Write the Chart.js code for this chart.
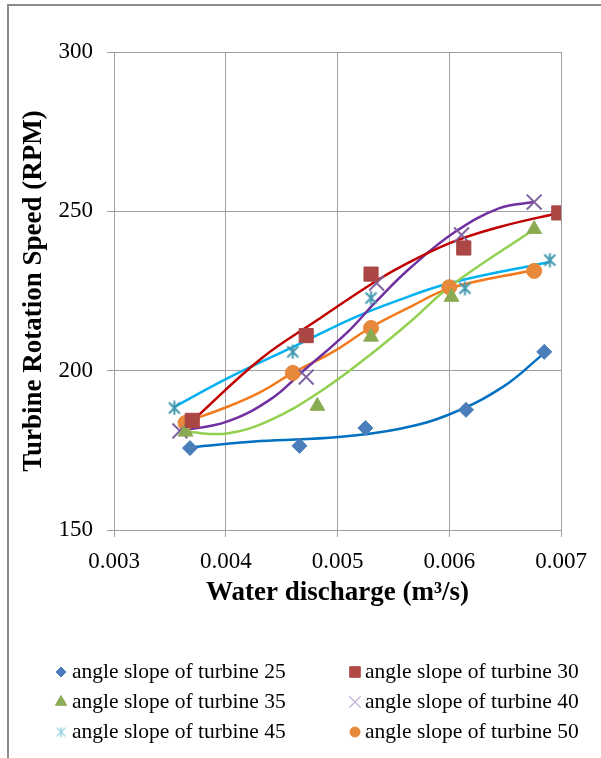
<!DOCTYPE html>
<html>
<head>
<meta charset="utf-8">
<script src="https://cdn.jsdelivr.net/npm/chart.js@4/dist/chart.umd.min.js"></script>
<style>
  html, body { margin: 0; padding: 0; background: #fff; }
  #wrap { position: relative; width: 601px; height: 758px; overflow: hidden; }
  #wrap canvas { position: absolute; left: 0; top: 0; }
  #frame {
    position: absolute; left: 7px; top: 4px; right: 0; bottom: 0;
    border-top: 2px solid #8a8a8a; border-left: 2px solid #8a8a8a;
    pointer-events: none;
  }
</style>
</head>
<body>
<div id="wrap">
  <canvas id="chart" width="601" height="758"></canvas>
  <div id="frame"></div>
</div>
<script>
// --- Data ---
const turbineAngles = [25, 30, 35, 40, 45, 50];

// measured points: water discharge (m3/s) and rotation speed (RPM)
const q25 = [0.00368, 0.00466, 0.00525, 0.00615, 0.00685];
const rpm25 = [175.7, 176.4, 182.0, 187.7, 205.9];
const q30 = [0.00370, 0.00472, 0.00530, 0.00613, 0.00698];
const rpm30 = [184.4, 211.0, 230.3, 238.5, 249.5];
const q35 = [0.00364, 0.00482, 0.00530, 0.00602, 0.00676];
const rpm35 = [180.8, 188.9, 210.6, 223.1, 244.4];
const q40 = [0.00359, 0.00472, 0.00535, 0.00611, 0.00676];
const rpm40 = [181.1, 198.0, 227.5, 242.6, 252.9];
const q45 = [0.00354, 0.00460, 0.00530, 0.00614, 0.00690];
const rpm45 = [188.3, 205.9, 222.8, 225.9, 234.7];
const q50 = [0.00364, 0.00460, 0.00530, 0.00600, 0.00676];
const rpm50 = [183.6, 199.3, 213.4, 226.2, 231.3];

// trend curves
const tq25 = [0.00370, 0.00431, 0.00501, 0.00556, 0.00601, 0.00648, 0.00684];
const trpm25 = [176.0, 177.9, 179.2, 181.8, 186.4, 194.9, 205.2];
const tq30 = [0.00370, 0.00431, 0.00482, 0.00529, 0.00556, 0.00601, 0.00645, 0.00698];
const trpm30 = [184.2, 203.6, 215.9, 226.9, 232.5, 240.1, 245.1, 249.5];
const tq35 = [0.00364, 0.00401, 0.00440, 0.00484, 0.00529, 0.00565, 0.00601, 0.00676];
const trpm35 = [180.8, 180.3, 184.5, 193.3, 204.9, 215.3, 226.5, 244.4];
const tq40 = [0.00359, 0.00401, 0.00440, 0.00469, 0.00509, 0.00534, 0.00565, 0.00605, 0.00645, 0.00676];
const trpm40 = [181.1, 184.0, 191.0, 199.8, 212.1, 221.5, 232.2, 243.5, 251.0, 252.9];
const tq45 = [0.00354, 0.00401, 0.00466, 0.00514, 0.00553, 0.00601, 0.00690];
const trpm45 = [188.6, 197.5, 208.4, 216.5, 221.9, 227.5, 234.1];
const tq50 = [0.00364, 0.00401, 0.00431, 0.00460, 0.00496, 0.00529, 0.00565, 0.00601, 0.00676];
const trpm50 = [183.9, 188.6, 193.3, 199.3, 205.9, 213.4, 220.0, 225.9, 231.6];

const xTicks = [0.003, 0.004, 0.005, 0.006, 0.007];
const yTicks = [150, 200, 250, 300];

// --- Styles ---
const gridColor = '#a0a0a0';
const serif = '"Liberation Serif", "Times New Roman", serif';

function asterisk(size, color, lw) {
    const c = document.createElement('canvas');
    c.width = c.height = size;
    const g = c.getContext('2d');
    g.strokeStyle = color;
    g.lineWidth = lw;
    const a = lw, b = size - lw;
    g.beginPath();
    g.moveTo(a, a); g.lineTo(b, b);
    g.moveTo(b, a); g.lineTo(a, b);
    g.moveTo(size / 2, 0.5); g.lineTo(size / 2, size - 0.5);
    g.stroke();
    return c;
}

const markerStyles = [
    { style: 'rectRot', radius: 7.5, fill: '#4a7dba', border: '#4a7dba', bw: 1 },
    { style: 'rect', radius: 10, fill: '#aa4643', border: '#aa4643', bw: 1 },
    { style: 'triangle', radius: 8.5, fill: '#8bab52', border: '#8bab52', bw: 1 },
    { style: 'crossRot', radius: 10.5, fill: '#7e63a0', border: '#7e63a0', bw: 2 },
    { style: asterisk(15, '#4198af', 2), radius: 7, fill: '#4198af', border: '#4198af', bw: 2 },
    { style: 'circle', radius: 7.5, fill: '#e8883a', border: '#e8883a', bw: 1 }
];
const legendStyles = [
    { style: 'rectRot', radius: 5, fill: '#4a7dba', border: '#4a7dba', bw: 1 },
    { style: 'rect', radius: 7.5, fill: '#b04a47', border: '#b04a47', bw: 1 },
    { style: 'triangle', radius: 6.5, fill: '#8dab55', border: '#8dab55', bw: 1 },
    { style: 'crossRot', radius: 8, fill: '#b8a6d0', border: '#b8a6d0', bw: 1.2 },
    { style: asterisk(11, '#86cbe0', 1.2), radius: 5, fill: '#86cbe0', border: '#86cbe0', bw: 1 },
    { style: 'circle', radius: 5, fill: '#e8883a', border: '#e8883a', bw: 1 }
];
const trendColors = ['#0070c0', '#c00000', '#92d050', '#7030a0', '#00b0f0', '#f27a1c'];

const pointSets = [[q25, rpm25], [q30, rpm30], [q35, rpm35], [q40, rpm40], [q45, rpm45], [q50, rpm50]];
const trendSets = [[tq25, trpm25], [tq30, trpm30], [tq35, trpm35], [tq40, trpm40], [tq45, trpm45], [tq50, trpm50]];

const toPoints = (xs, ys) => xs.map((x, i) => ({ x: x, y: ys[i] }));

const datasets = [];
pointSets.forEach(([xs, ys], i) => {
    const m = markerStyles[i];
    datasets.push({
        label: 'angle slope of turbine ' + turbineAngles[i],
        data: toPoints(xs, ys),
        showLine: false,
        pointStyle: m.style,
        pointRadius: m.radius,
        pointBackgroundColor: m.fill,
        pointBorderColor: m.border,
        pointBorderWidth: m.bw,
        order: 1
    });
});
trendSets.forEach(([xs, ys], i) => {
    datasets.push({
        label: 'trend ' + turbineAngles[i],
        data: toPoints(xs, ys),
        showLine: true,
        borderColor: trendColors[i],
        borderWidth: 2.5,
        pointRadius: 0,
        tension: 0.4,
        order: 2
    });
});

// --- Legend in two columns under the plot ---
const columnLegend = {
    id: 'columnLegend',
    afterDraw(chart) {
        const ctx = chart.ctx;
        const markerX = [61, 355];
        const textX = [72, 365];
        ctx.save();
        ctx.font = '21.5px ' + serif;
        ctx.textBaseline = 'middle';
        ctx.textAlign = 'left';
        turbineAngles.forEach((a, i) => {
            const col = i % 2, row = Math.floor(i / 2);
            const y = 672 + row * 30;
            const m = legendStyles[i];
            ctx.fillStyle = m.fill;
            ctx.strokeStyle = m.border;
            ctx.lineWidth = m.bw;
            Chart.helpers.drawPoint(ctx, { pointStyle: m.style, radius: m.radius, rotation: 0, borderWidth: m.bw }, markerX[col], y);
            ctx.fillStyle = '#000';
            ctx.fillText('angle slope of turbine ' + a, textX[col], y);
        });
        ctx.restore();
    }
};

const tickFont = { family: serif, size: 23 };
const titleFont = { family: serif, size: 27, weight: 'bold' };

new Chart(document.getElementById('chart'), {
    type: 'scatter',
    data: { datasets: datasets },
    options: {
        responsive: false,
        animation: false,
        events: [],
        layout: { padding: { top: 52, right: 40, bottom: 148, left: 0 } },
        plugins: {
            legend: { display: false },
            tooltip: { enabled: false }
        },
        scales: {
            x: {
                type: 'linear',
                min: xTicks[0],
                max: xTicks[xTicks.length - 1],
                afterFit: (s) => { s.height = 80; },
                afterBuildTicks: (s) => { s.ticks = xTicks.map(v => ({ value: v })); },
                ticks: {
                    callback: (v) => Number(v).toFixed(3),
                    font: tickFont,
                    color: '#000',
                    padding: 11,
                    maxRotation: 0,
                    autoSkip: false
                },
                grid: { color: gridColor, tickLength: 7, lineWidth: 1 },
                border: { color: gridColor },
                title: {
                    display: true,
                    text: 'Water discharge (m³/s)',
                    font: titleFont,
                    color: '#000',
                    padding: { top: 0, bottom: 1 }
                }
            },
            y: {
                min: yTicks[0],
                max: yTicks[yTicks.length - 1],
                afterFit: (s) => { s.width = 114; },
                afterBuildTicks: (s) => { s.ticks = yTicks.map(v => ({ value: v })); },
                ticks: {
                    font: tickFont,
                    color: '#000',
                    padding: 14
                },
                grid: { color: gridColor, tickLength: 7, lineWidth: 1 },
                border: { color: gridColor },
                title: {
                    display: true,
                    text: 'Turbine Rotation Speed (RPM)',
                    font: titleFont,
                    color: '#000',
                    padding: { top: 18, bottom: 0 }
                }
            }
        }
    },
    plugins: [columnLegend]
});
</script>
</body>
</html>
